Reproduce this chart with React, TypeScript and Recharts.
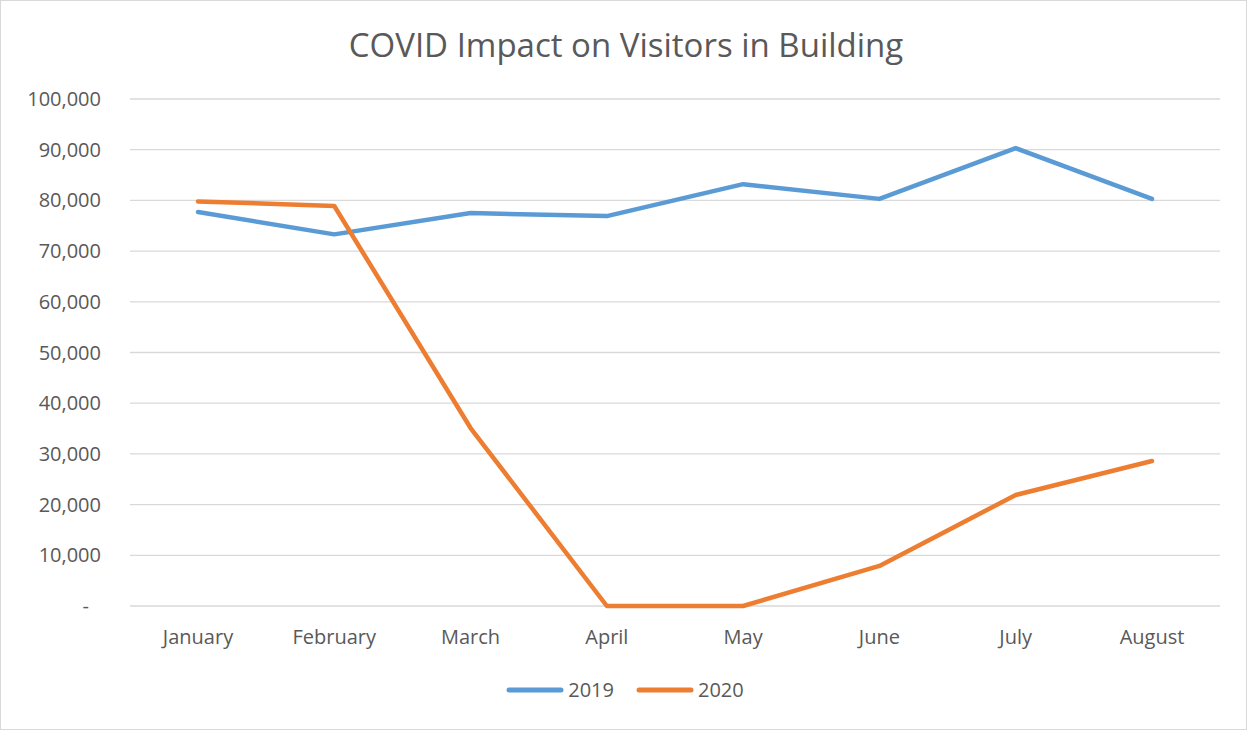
import React from "react";
import { LineChart, Line, XAxis, YAxis, CartesianGrid, Legend } from "recharts";

const months = ["January", "February", "March", "April", "May", "June", "July", "August"];
const visitors2019 = [77700, 73300, 77500, 76900, 83200, 80300, 90300, 80300];
const visitors2020 = [79800, 78900, 35100, 0, 0, 7900, 21900, 28600];
const yTicks = [0, 10000, 20000, 30000, 40000, 50000, 60000, 70000, 80000, 90000, 100000];

const data = months.map((m, i) => ({
  month: m,
  "2019": visitors2019[i],
  "2020": visitors2020[i],
}));

const FONT = "'Open Sans', 'Noto Sans', sans-serif";
const TEXT = "#595959";

function YTick(props: any) {
  const { x, y, payload } = props;
  const v = payload.value;
  const label = v === 0 ? "-" : v.toLocaleString("en-US");
  return (
    <text
      x={v === 0 ? x - 12 : x}
      y={y}
      dy="0.35em"
      textAnchor="end"
      fill={TEXT}
      fontSize={20}
      fontFamily={FONT}
    >
      {label}
    </text>
  );
}

function LegendContent(props: any) {
  const { payload } = props;
  return (
    <div style={{ display: "flex", justifyContent: "center", alignItems: "center", gap: 22 }}>
      {payload.map((p: any) => (
        <div key={p.value} style={{ display: "flex", alignItems: "center" }}>
          <svg width={58} height={10} style={{ marginRight: 4 }}>
            <line x1={3} y1={5} x2={55} y2={5} stroke={p.color} strokeWidth={5} strokeLinecap="round" />
          </svg>
          <span style={{ fontFamily: FONT, fontSize: 20, color: TEXT }}>{p.value}</span>
        </div>
      ))}
    </div>
  );
}

export default function App() {
  return (
    <div
      style={{
        position: "absolute",
        left: 0,
        top: 0,
        width: 1247,
        height: 730,
        boxSizing: "border-box",
        border: "1px solid #d9d9d9",
        background: "#fff",
      }}
    >
      <div
        style={{
          position: "absolute",
          left: 0,
          top: 21,
          width: 1250,
          textAlign: "center",
          fontFamily: FONT,
          fontSize: 33,
          color: TEXT,
        }}
      >
        COVID Impact on Visitors in Building
      </div>
      <div style={{ position: "absolute", left: -1, top: -1 }}>
        <LineChart
          width={1247}
          height={730}
          data={data}
          margin={{ top: 99, right: 27, left: 0, bottom: 44 }}
        >
          <CartesianGrid vertical={false} stroke="#d9d9d9" strokeWidth={1.3} />
          <XAxis
            dataKey="month"
            padding={{ left: 68, right: 68 }}
            axisLine={false}
            tickLine={false}
            tickSize={0}
            tickMargin={24}
            height={50}
            tick={{ fill: TEXT, fontSize: 20, fontFamily: FONT }}
          />
          <YAxis
            width={130}
            domain={[0, 100000]}
            ticks={yTicks}
            axisLine={false}
            tickLine={false}
            tickSize={0}
            tickMargin={29}
            tick={<YTick />}
          />
          <Legend
            verticalAlign="bottom"
            content={<LegendContent />}
            wrapperStyle={{ top: 676, left: 0, width: 1250, height: 30 }}
          />
          <Line
            type="linear"
            dataKey="2019"
            stroke="#5b9bd5"
            strokeWidth={4.5}
            strokeLinecap="round"
            strokeLinejoin="round"
            dot={false}
            activeDot={false}
            isAnimationActive={false}
          />
          <Line
            type="linear"
            dataKey="2020"
            stroke="#ed7d31"
            strokeWidth={4.5}
            strokeLinecap="round"
            strokeLinejoin="round"
            dot={false}
            activeDot={false}
            isAnimationActive={false}
          />
        </LineChart>
      </div>
    </div>
  );
}
